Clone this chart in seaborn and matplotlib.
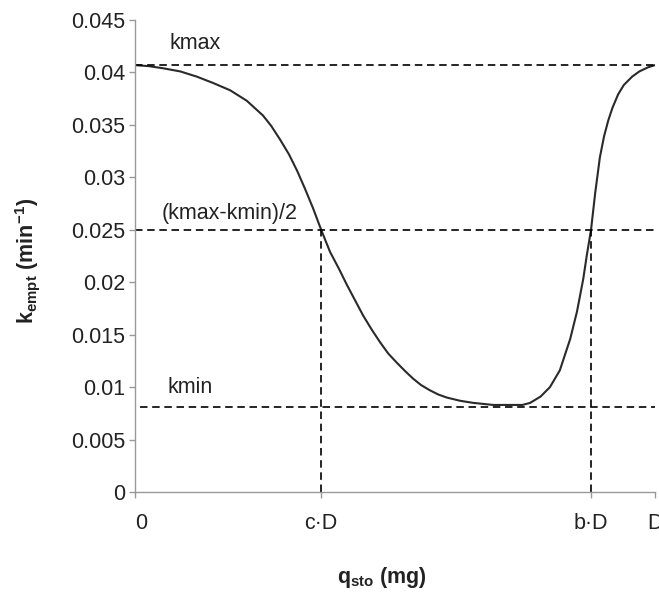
import matplotlib
matplotlib.use("Agg")
import matplotlib.pyplot as plt
import seaborn as sns
import pandas as pd

# ---- data (x as fraction of D) ----
q_frac = [0.000, 0.027, 0.054, 0.087, 0.119, 0.150, 0.183, 0.215, 0.246, 0.262,
          0.279, 0.296, 0.312, 0.327, 0.342, 0.358, 0.375, 0.392, 0.408, 0.424,
          0.439, 0.455, 0.471, 0.487, 0.504, 0.520, 0.535, 0.550, 0.567, 0.583,
          0.600, 0.625, 0.650, 0.689, 0.730, 0.745, 0.760, 0.780, 0.798, 0.817,
          0.837, 0.850, 0.862, 0.869, 0.877, 0.885, 0.894, 0.902, 0.910, 0.918,
          0.929, 0.940, 0.956, 0.970, 0.987, 1.000]
k_empt = [0.0407, 0.0406, 0.0404, 0.0401, 0.0396, 0.0390, 0.0383, 0.0373, 0.0359, 0.0349,
          0.0336, 0.0322, 0.0306, 0.0289, 0.0271, 0.0250, 0.0229, 0.0213, 0.0197, 0.0182,
          0.0168, 0.0155, 0.0143, 0.0132, 0.0123, 0.0115, 0.0108, 0.0102, 0.0097, 0.0093,
          0.0090, 0.0087, 0.0085, 0.0083, 0.0083, 0.0083, 0.0085, 0.0091, 0.0100, 0.0116,
          0.0146, 0.0172, 0.0203, 0.0226, 0.0250, 0.0285, 0.0319, 0.0339, 0.0354, 0.0366,
          0.0379, 0.0388, 0.0396, 0.0401, 0.0405, 0.0407]

kmax = 0.0407
kmin = 0.0081
khalf = 0.025
c_pos = 0.358
b_pos = 0.877

x_ticks = [0.0, c_pos, b_pos, 1.0]
x_ticklabels = ["0", "c·D", "b·D", "D"]
y_ticks = [0, 0.005, 0.01, 0.015, 0.02, 0.025, 0.03, 0.035, 0.04, 0.045]
y_ticklabels = ["0", "0.005", "0.01", "0.015", "0.02", "0.025", "0.03", "0.035", "0.04", "0.045"]

sns.set_style("white")
plt.rcParams["font.family"] = ["Liberation Sans", "DejaVu Sans"]
plt.rcParams["mathtext.fontset"] = "custom"
plt.rcParams["mathtext.rm"] = "Liberation Sans"
plt.rcParams["mathtext.bf"] = "Liberation Sans:bold"

fig = plt.figure(figsize=(6.59, 5.96), dpi=100)
ax = fig.add_axes([0.2049, 0.1745, 0.789, 0.7919])

df = pd.DataFrame({"q": q_frac, "k": k_empt})
sns.lineplot(data=df, x="q", y="k", ax=ax, color="#2a2a2a", linewidth=1.5, sort=False)

dash = dict(color="black", linewidth=1.2, linestyle=(0, (4.5, 2.8)))
ax.axhline(kmax, xmin=0.0, xmax=1.0, **dash)
ax.axhline(khalf, xmin=0.0, xmax=1.0, **dash)
ax.axhline(kmin, xmin=0.01, xmax=1.0, **dash)
ax.plot([c_pos, c_pos], [0, khalf], **dash)
ax.plot([b_pos, b_pos], [0, khalf], **dash)

fs = 15.5
ax.text(0.067, 0.0428, "kmax", fontsize=fs, va="center", ha="left", color="#222222")
ax.text(0.052, 0.0266, "(kmax-kmin)/2", fontsize=fs, va="center", ha="left", color="#222222")
ax.text(0.063, 0.0100, "kmin", fontsize=fs, va="center", ha="left", color="#222222")

ax.set_xlim(0, 1)
ax.set_ylim(0, 0.045)
ax.set_xticks(x_ticks)
ax.set_xticklabels(x_ticklabels, fontsize=fs, color="#222222")
ax.set_yticks(y_ticks)
ax.set_yticklabels(y_ticklabels, fontsize=fs, color="#222222")
ax.tick_params(axis="y", direction="out", length=4, width=1, color="#999999", pad=3, left=True)
ax.tick_params(axis="x", direction="out", length=4, width=1, color="#999999", pad=11, bottom=True)
ax.get_xticklabels()[0].set_ha("left")

for s in ["top", "right"]:
    ax.spines[s].set_visible(False)
for s in ["left", "bottom"]:
    ax.spines[s].set_color("#999999")
    ax.spines[s].set_linewidth(1.0)

ax.set_xlabel(r"q$_{\mathbf{sto}}$ (mg)", fontsize=fs, fontweight="bold", color="#222222")
ax.set_ylabel(r"k$_{\mathbf{empt}}$ (min$^{\mathbf{-1}}$)", fontsize=fs, fontweight="bold", color="#222222")
ax.xaxis.set_label_coords(0.475, -0.155)
ax.yaxis.set_label_coords(-0.179, 0.49)

fig.savefig("out.png", dpi=100)
